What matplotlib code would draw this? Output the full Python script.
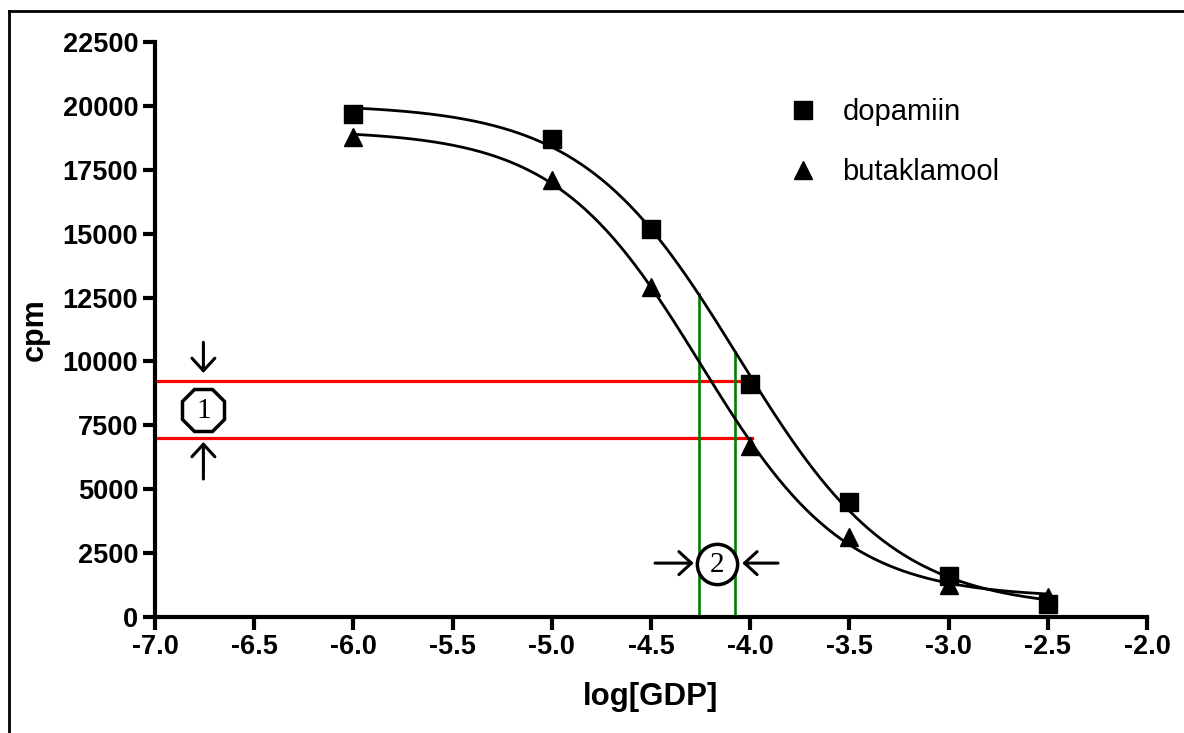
import numpy as np
import matplotlib
matplotlib.use("Agg")
import matplotlib.pyplot as plt
from matplotlib.lines import Line2D

plt.rcParams['font.family'] = ['Liberation Sans', 'DejaVu Sans']

log_gdp = [-6.0, -5.0, -4.5, -4.0, -3.5, -3.0, -2.5]
dopamiin = [19700, 18700, 15200, 9100, 4500, 1600, 500]
butaklamool = [18800, 17100, 12900, 6700, 3150, 1250, 800]

x_ticks = [-7.0, -6.5, -6.0, -5.5, -5.0, -4.5, -4.0, -3.5, -3.0, -2.5, -2.0]
y_ticks = [0, 2500, 5000, 7500, 10000, 12500, 15000, 17500, 20000, 22500]

# vertical shift (1): two cpm levels read at log[GDP] = -4
red_levels = [9250, 7000]
red_end = -3.99
# horizontal shift (2): two log[GDP] positions
green_x = [-4.26, -4.075]


def logistic(x, bottom, top, logec50, hill):
    return bottom + (top - bottom) / (1 + 10 ** ((logec50 - x) * hill))


def fit_logistic(x, y):
    # grid over logEC50/hill, bottom and top solved by linear least squares
    x = np.asarray(x, float)
    y = np.asarray(y, float)
    c = np.linspace(-5.5, -3.0, 251)[:, None, None]
    h = np.linspace(-1.5, -0.3, 121)[None, :, None]
    s = 1 / (1 + 10 ** ((c - x) * h))
    a = 1 - s
    saa, sab, sbb = (a * a).sum(-1), (a * s).sum(-1), (s * s).sum(-1)
    say, sby = (a * y).sum(-1), (s * y).sum(-1)
    det = saa * sbb - sab ** 2
    bottom = (say * sbb - sby * sab) / det
    top = (sby * saa - say * sab) / det
    resid = ((bottom[..., None] * a + top[..., None] * s - y) ** 2).sum(-1)
    i, j = np.unravel_index(np.argmin(resid), resid.shape)
    return bottom[i, j], top[i, j], c[i, 0, 0], h[0, j, 0]


fit_d = fit_logistic(log_gdp, dopamiin)
fit_b = fit_logistic(log_gdp, butaklamool)

fig = plt.figure(figsize=(11.84, 7.33), dpi=100)
ax = fig.add_axes([0.1309, 0.1582, 0.8379, 0.7845])

xs = np.linspace(-6.0, -2.5, 300)
ax.plot(xs, logistic(xs, *fit_d), color='black', lw=2.0, zorder=3)
ax.plot(xs, logistic(xs, *fit_b), color='black', lw=2.0, zorder=3)
ax.plot(log_gdp, dopamiin, 's', color='black', ms=13, label='dopamiin', zorder=4)
ax.plot(log_gdp, butaklamool, '^', color='black', ms=13, label='butaklamool', zorder=4)

for level in red_levels:
    ax.plot([-7.0, red_end], [level, level], color='red', lw=2.3, zorder=2)

# green lines run from the axis up to the dopamiin curve
for gx in green_x:
    ax.plot([gx, gx], [0, logistic(gx, *fit_d)], color='#008000', lw=1.9, zorder=2)

arrow = dict(arrowstyle='->,head_length=0.6,head_width=0.55', lw=2.2, color='black',
             shrinkA=0, shrinkB=0, mutation_scale=15)

# marker 1 with arrows
ax.plot([-6.756], [8100], marker='8', ms=32, mfc='white', mec='black', mew=2.5, zorder=5)
ax.text(-6.756, 8050, '1', family='Liberation Serif', fontsize=21,
        ha='center', va='center', zorder=6)
ax.annotate('', xy=(-6.756, 9550), xytext=(-6.756, 10750), arrowprops=arrow)
ax.annotate('', xy=(-6.756, 6850), xytext=(-6.756, 5400), arrowprops=arrow)

# marker 2 with arrows
ax.plot([-4.165], [2070], marker='o', ms=29, mfc='white', mec='black', mew=2.5, zorder=5)
ax.text(-4.165, 2030, '2', family='Liberation Serif', fontsize=21,
        ha='center', va='center', zorder=6)
ax.annotate('', xy=(-4.285, 2110), xytext=(-4.48, 2110), arrowprops=arrow)
ax.annotate('', xy=(-4.04, 2110), xytext=(-3.86, 2110), arrowprops=arrow)

ax.set_xlim(-7.0, -2.0)
ax.set_ylim(0, 22500)
ax.set_xticks(x_ticks)
ax.set_xticklabels([f'{v:.1f}' for v in x_ticks])
ax.set_yticks(y_ticks)
ax.set_yticklabels([str(v) for v in y_ticks])
for spine in ('top', 'right'):
    ax.spines[spine].set_visible(False)
for spine in ('left', 'bottom'):
    ax.spines[spine].set_linewidth(3)
ax.tick_params(direction='out', length=9, width=3, labelsize=19.5, pad=3)
for lbl in ax.get_xticklabels() + ax.get_yticklabels():
    lbl.set_fontweight('bold')
ax.set_xlabel('log[GDP]', fontsize=22.5, fontweight='bold', labelpad=16)
ax.set_ylabel('cpm', fontsize=22, fontweight='bold', labelpad=9)

ax.legend(loc='upper left', bbox_to_anchor=(0.6386, 0.902), frameon=False, fontsize=21,
          handlelength=1.0, handletextpad=0.85, labelspacing=1.09, markerscale=0.95,
          borderpad=0, borderaxespad=0, numpoints=1)

# outer frame (top and left edges)
fig.add_artist(Line2D([0.0076, 1.0], [0.985, 0.985], color='black', lw=2))
fig.add_artist(Line2D([0.0076, 0.0076], [0.0, 0.985], color='black', lw=2))

fig.savefig('out.png', dpi=100)
